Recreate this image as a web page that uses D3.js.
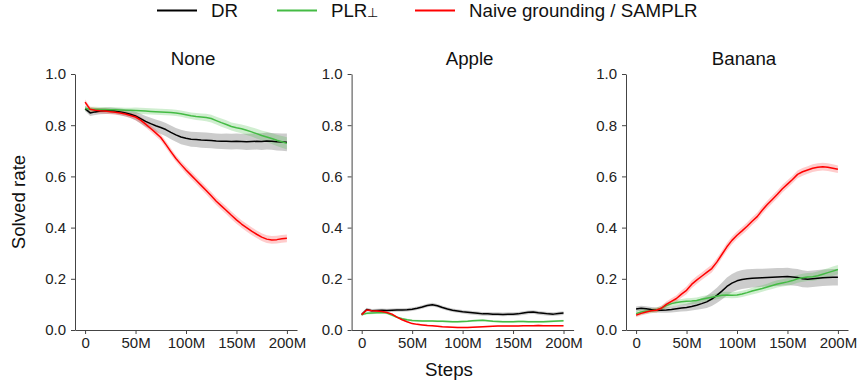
<!DOCTYPE html>
<html>
<head>
<meta charset="utf-8">
<script src="https://cdn.jsdelivr.net/npm/d3@7"></script>
<style>
  body { margin: 0; background: #fff; }
  svg { display: block; font-family: "Liberation Sans", Arial, sans-serif; }
</style>
</head>
<body>
<svg id="chart" width="859" height="387"></svg>
<script>
// ---------------- DATA ----------------
const steps = [0,5,10,15,20,25,30,35,40,45,
  50,55,60,65,70,75,80,85,90,95,
  100,105,110,115,120,125,130,135,140,145,
  150,155,160,165,170,175,180,185,190,195,200];

const panelTitles = ["None", "Apple", "Banana"];
const seriesNames = ["DR", "PLR", "Naive grounding / SAMPLR"];
const xTickValues = [0, 50, 100, 150, 200];
const xTickLabels = ["0", "50M", "100M", "150M", "200M"];
const yTickValues = [0, 0.2, 0.4, 0.6, 0.8, 1.0];

// None
const noneDR = [0.865,0.848,0.852,0.855,0.856,0.857,0.855,0.852,0.848,0.843,
  0.836,0.826,0.815,0.806,0.798,0.791,0.783,0.772,0.762,0.754,
  0.749,0.745,0.744,0.742,0.741,0.740,0.738,0.737,0.737,0.736,
  0.737,0.736,0.735,0.736,0.737,0.736,0.738,0.737,0.735,0.734,0.733];
const noneDRsd = [0.010,0.012,0.012,0.012,0.012,0.012,0.012,0.013,0.014,0.015,
  0.017,0.019,0.021,0.023,0.024,0.025,0.026,0.027,0.027,0.028,
  0.028,0.029,0.029,0.030,0.030,0.030,0.030,0.030,0.031,0.031,
  0.031,0.031,0.032,0.032,0.032,0.033,0.033,0.033,0.034,0.034,0.035];
const nonePLR = [0.865,0.862,0.862,0.861,0.861,0.860,0.860,0.859,0.858,0.858,
  0.857,0.856,0.855,0.854,0.853,0.852,0.851,0.850,0.848,0.845,
  0.841,0.837,0.834,0.832,0.830,0.826,0.818,0.810,0.803,0.795,
  0.790,0.786,0.780,0.774,0.767,0.760,0.754,0.748,0.741,0.735,0.729];
const nonePLRsd = [0.010,0.010,0.010,0.010,0.010,0.010,0.010,0.010,0.010,0.010,
  0.012,0.012,0.012,0.012,0.012,0.012,0.012,0.012,0.012,0.012,
  0.013,0.013,0.014,0.014,0.015,0.015,0.015,0.016,0.016,0.016,
  0.017,0.017,0.018,0.018,0.019,0.019,0.020,0.021,0.022,0.023,0.024];
const noneNaive = [0.890,0.862,0.858,0.856,0.855,0.853,0.851,0.848,0.844,0.838,
  0.832,0.820,0.804,0.787,0.770,0.752,0.725,0.697,0.670,0.647,
  0.625,0.605,0.585,0.565,0.545,0.524,0.503,0.485,0.467,0.448,
  0.430,0.414,0.400,0.386,0.374,0.363,0.355,0.352,0.353,0.356,0.358];
const noneNaivesd = [0.010,0.010,0.010,0.010,0.010,0.010,0.010,0.010,0.010,0.010,
  0.013,0.013,0.013,0.013,0.013,0.013,0.013,0.013,0.013,0.013,
  0.015,0.015,0.015,0.015,0.015,0.015,0.015,0.015,0.015,0.015,
  0.015,0.015,0.015,0.015,0.015,0.015,0.015,0.015,0.015,0.015,0.015];

// Apple
const appleDR = [0.060,0.080,0.075,0.076,0.077,0.076,0.077,0.078,0.078,0.079,
  0.081,0.085,0.090,0.096,0.099,0.095,0.088,0.082,0.077,0.074,
  0.071,0.069,0.067,0.065,0.063,0.063,0.062,0.062,0.061,0.062,
  0.062,0.063,0.066,0.069,0.070,0.067,0.065,0.063,0.062,0.064,0.066];
const appleDRsd = [0.007,0.007,0.007,0.007,0.007,0.007,0.007,0.007,0.007,0.007,
  0.007,0.007,0.007,0.007,0.007,0.007,0.007,0.007,0.007,0.007,
  0.007,0.007,0.007,0.007,0.007,0.007,0.007,0.007,0.007,0.007,
  0.007,0.007,0.007,0.007,0.007,0.007,0.007,0.007,0.007,0.007,0.007];
const applePLR = [0.060,0.065,0.066,0.067,0.068,0.066,0.058,0.050,0.044,0.040,
  0.037,0.036,0.035,0.035,0.035,0.034,0.034,0.033,0.032,0.032,
  0.033,0.034,0.036,0.037,0.038,0.036,0.034,0.033,0.032,0.032,
  0.032,0.033,0.033,0.032,0.032,0.032,0.032,0.033,0.034,0.035,0.036];
const applePLRsd = [0.004,0.004,0.004,0.004,0.004,0.004,0.004,0.004,0.004,0.004,
  0.004,0.004,0.004,0.004,0.004,0.004,0.004,0.004,0.004,0.004,
  0.004,0.004,0.004,0.004,0.004,0.004,0.004,0.004,0.004,0.004,
  0.004,0.004,0.004,0.004,0.004,0.004,0.004,0.004,0.004,0.004,0.004];
const appleNaive = [0.060,0.078,0.075,0.074,0.072,0.068,0.062,0.050,0.040,0.032,
  0.025,0.022,0.020,0.018,0.017,0.015,0.013,0.012,0.011,0.010,
  0.010,0.010,0.011,0.012,0.013,0.014,0.015,0.016,0.016,0.016,
  0.016,0.016,0.017,0.017,0.017,0.018,0.017,0.017,0.017,0.017,0.017];
const appleNaivesd = [0.003,0.003,0.003,0.003,0.003,0.003,0.003,0.003,0.003,0.003,
  0.003,0.003,0.003,0.003,0.003,0.003,0.003,0.003,0.003,0.003,
  0.003,0.003,0.003,0.003,0.003,0.003,0.003,0.003,0.003,0.003,
  0.003,0.003,0.003,0.003,0.003,0.003,0.003,0.003,0.003,0.003,0.003];

// Banana
const bananaDR = [0.082,0.085,0.083,0.080,0.078,0.077,0.078,0.080,0.083,0.086,
  0.088,0.092,0.097,0.103,0.110,0.121,0.135,0.152,0.170,0.183,
  0.192,0.197,0.200,0.202,0.203,0.204,0.205,0.206,0.207,0.208,
  0.209,0.207,0.205,0.200,0.198,0.200,0.202,0.204,0.205,0.206,0.206];
const bananaDRsd = [0.010,0.010,0.010,0.010,0.010,0.010,0.011,0.012,0.013,0.014,
  0.015,0.016,0.018,0.021,0.024,0.027,0.030,0.033,0.035,0.036,
  0.037,0.037,0.037,0.036,0.036,0.035,0.035,0.035,0.035,0.034,
  0.034,0.033,0.033,0.033,0.032,0.032,0.032,0.032,0.032,0.032,0.032];
const bananaPLR = [0.064,0.070,0.073,0.075,0.078,0.085,0.095,0.103,0.107,0.110,
  0.112,0.113,0.115,0.120,0.124,0.128,0.132,0.136,0.137,0.136,
  0.137,0.141,0.146,0.152,0.157,0.162,0.168,0.174,0.180,0.184,
  0.188,0.193,0.200,0.204,0.207,0.208,0.212,0.218,0.224,0.230,0.236];
const bananaPLRsd = [0.010,0.010,0.010,0.010,0.010,0.010,0.011,0.011,0.011,0.011,
  0.012,0.012,0.012,0.012,0.012,0.012,0.012,0.012,0.012,0.012,
  0.012,0.012,0.012,0.013,0.013,0.013,0.013,0.014,0.014,0.014,
  0.015,0.015,0.015,0.016,0.016,0.016,0.017,0.017,0.017,0.018,0.018];
const bananaNaive = [0.058,0.065,0.070,0.075,0.077,0.085,0.100,0.112,0.123,0.140,
  0.155,0.178,0.195,0.210,0.225,0.240,0.265,0.295,0.325,0.350,
  0.370,0.387,0.405,0.425,0.443,0.468,0.490,0.510,0.530,0.552,
  0.570,0.588,0.608,0.618,0.625,0.632,0.636,0.638,0.636,0.632,0.628];
const bananaNaivesd = [0.008,0.008,0.008,0.008,0.009,0.010,0.011,0.012,0.013,0.014,
  0.015,0.015,0.015,0.015,0.015,0.015,0.015,0.015,0.015,0.015,
  0.015,0.015,0.015,0.015,0.015,0.015,0.015,0.015,0.015,0.015,
  0.015,0.015,0.015,0.015,0.015,0.015,0.015,0.015,0.015,0.015,0.015];

// ---------------- DRAW ----------------
const colors = ["#000000", "#44bb44", "#ff0000"];
const bandOpacity = [0.2, 0.25, 0.2];

const panels = [
  { title: panelTitles[0], series: [[noneDR, noneDRsd], [nonePLR, nonePLRsd], [noneNaive, noneNaivesd]] },
  { title: panelTitles[1], series: [[appleDR, appleDRsd], [applePLR, applePLRsd], [appleNaive, appleNaivesd]] },
  { title: panelTitles[2], series: [[bananaDR, bananaDRsd], [bananaPLR, bananaPLRsd], [bananaNaive, bananaNaivesd]] }
];

const svg = d3.select("#chart");
svg.append("rect").attr("width", 859).attr("height", 387).attr("fill", "#fff");

const panelLeft = [75, 351.6, 626];
const plotW = 222, plotTop = 74, plotH = 256;
const FONT = '"Liberation Sans", Arial, sans-serif';

const x = d3.scaleLinear().domain([-10, 210]).range([0, plotW]);
const y = d3.scaleLinear().domain([0, 1]).range([plotH, 0]);

panels.forEach((p, pi) => {
  const g = svg.append("g").attr("transform", `translate(${panelLeft[pi]},${plotTop})`);

  // bands
  p.series.forEach((s, si) => {
    const [vals, sd] = s;
    const area = d3.area()
      .x((d, i) => x(steps[i]))
      .y0((d, i) => y(vals[i] - sd[i]))
      .y1((d, i) => y(vals[i] + sd[i]));
    g.append("path").datum(vals)
      .attr("d", area)
      .attr("fill", colors[si])
      .attr("fill-opacity", bandOpacity[si])
      .attr("stroke", "none");
  });
  // lines
  p.series.forEach((s, si) => {
    const [vals] = s;
    const line = d3.line().x((d, i) => x(steps[i])).y(d => y(d));
    g.append("path").datum(vals)
      .attr("d", line)
      .attr("fill", "none")
      .attr("stroke", colors[si])
      .attr("stroke-width", 1.5)
      .attr("stroke-linejoin", "round");
  });

  // axes
  const xAxis = d3.axisBottom(x).tickValues(xTickValues)
    .tickFormat((d, i) => xTickLabels[i]).tickSize(4).tickPadding(3).tickSizeOuter(0);
  const yAxis = d3.axisLeft(y).tickValues(yTickValues)
    .tickFormat(d3.format(".1f")).tickSize(4).tickPadding(5).tickSizeOuter(0);

  const gx = g.append("g").attr("transform", `translate(0,${plotH})`).call(xAxis);
  const gy = g.append("g").call(yAxis);
  [gx, gy].forEach(ax => {
    ax.selectAll(".domain").attr("stroke", "#444").attr("stroke-width", 1);
    ax.selectAll(".tick line").attr("stroke", "#444").attr("stroke-width", 1);
    ax.selectAll(".tick text").attr("fill", "#222").attr("font-size", 15).attr("font-family", FONT);
  });

  // title
  g.append("text")
    .attr("x", 118).attr("y", 65 - plotTop)
    .attr("text-anchor", "middle")
    .attr("font-size", 18.7).attr("font-family", FONT).attr("fill", "#111")
    .text(p.title);
});

// axis labels
svg.append("text")
  .attr("transform", "translate(25,202) rotate(-90)")
  .attr("text-anchor", "middle")
  .attr("font-size", 18.7).attr("font-family", FONT).attr("fill", "#111")
  .text("Solved rate");
svg.append("text")
  .attr("x", 449).attr("y", 376)
  .attr("text-anchor", "middle")
  .attr("font-size", 18.7).attr("font-family", FONT).attr("fill", "#111")
  .text("Steps");

// legend
const legendX = [157, 277, 415];
const legend = svg.append("g");
seriesNames.forEach((name, i) => {
  legend.append("line")
    .attr("x1", legendX[i]).attr("x2", legendX[i] + 40)
    .attr("y1", 10.5).attr("y2", 10.5)
    .attr("stroke", colors[i]).attr("stroke-width", 2);
  const t = legend.append("text")
    .attr("x", legendX[i] + 54).attr("y", 17)
    .attr("font-size", 18.7).attr("font-family", FONT).attr("fill", "#111")
    .text(name);
  if (i === 1) {
    t.append("tspan").attr("font-size", 13).attr("dy", 0).text("⊥");
  }
});
</script>
</body>
</html>
